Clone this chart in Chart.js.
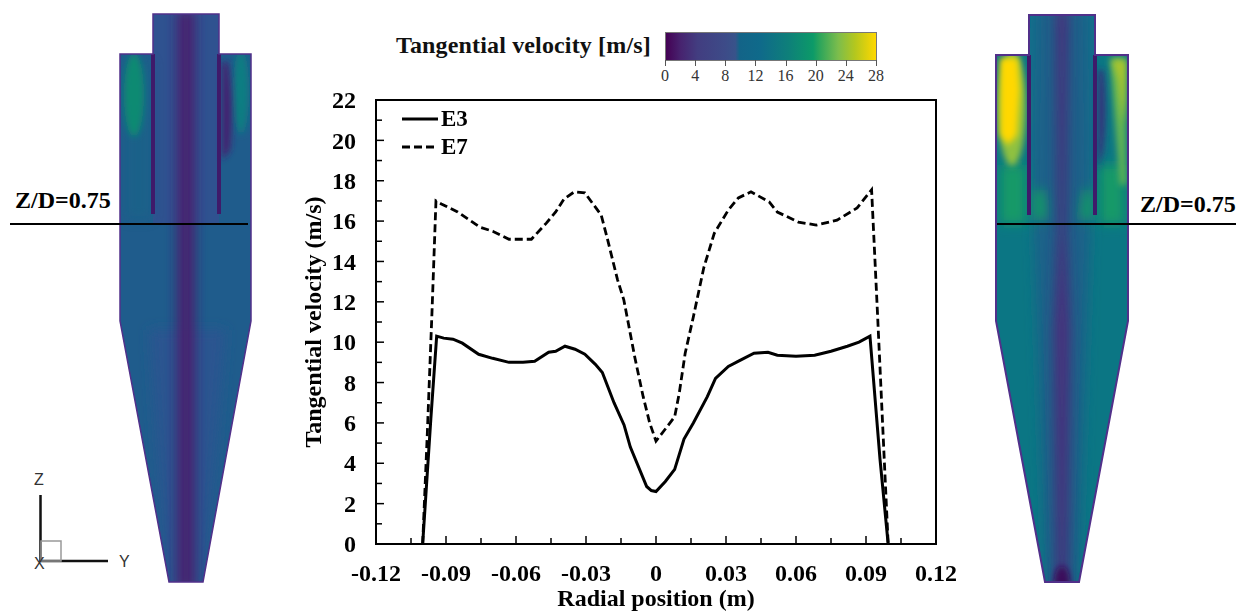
<!DOCTYPE html>
<html>
<head>
<meta charset="utf-8">
<title>Tangential velocity</title>
<script src="https://cdn.jsdelivr.net/npm/chart.js@4/dist/chart.umd.min.js"></script>
<style>
	html, body { margin: 0; padding: 0; background: #fff; }
	body { width: 1244px; height: 614px; position: relative; overflow: hidden; font-family: "Liberation Serif", serif; }
	#art { position: absolute; left: 0; top: 0; }
	#chartBox { position: absolute; left: 300px; top: 86px; width: 660px; height: 528px; }
	#barTitle { position: absolute; left: 396px; top: 32px; font-size: 24px; font-weight: bold; letter-spacing: 0.15px; color: #111; white-space: nowrap; }
	#colorBar { position: absolute; left: 665px; top: 32px; width: 210px; height: 27px; border: 1px solid #777;
		background: linear-gradient(to right, #440154 0%, #47236f 7%, #423d80 15%, #3d4b88 28%, #38538a 33%, #136488 35%, #0f6a8a 45%, #0e7f7a 58%, #0c9a68 70%, #2aa45c 73%, #7cbd4c 82%, #b4c71e 90%, #ffd800 100%); }
	.barTick { position: absolute; top: 60px; width: 1px; height: 6px; background: #555; }
	.barLabel { position: absolute; top: 67px; width: 30px; margin-left: -15px; text-align: center; font-size: 16px; color: #333; }
</style>
</head>
<body>
<svg id="art" width="1244" height="614" xmlns="http://www.w3.org/2000/svg">
	<defs>
		<filter id="b3" x="-100%" y="-100%" width="300%" height="300%"><feGaussianBlur stdDeviation="3"/></filter>
		<filter id="b6" x="-150%" y="-100%" width="400%" height="300%"><feGaussianBlur stdDeviation="6"/></filter>
		<clipPath id="leftShape"><path d="M153 14H219V54H251V321L203 582H169L120 321V54H153Z"/></clipPath>
		<clipPath id="rightShape"><path d="M1029 15H1095V55H1128V321L1079 582H1045L996 321V55H1029Z"/></clipPath>
	</defs>

	<!-- left contour, E3 -->
	<g clip-path="url(#leftShape)">
		<rect x="110" y="0" width="150" height="600" fill="#1f5c8c"/>
		<rect x="153" y="14" width="66" height="210" fill="#2f5290"/>
		<path d="M150 330H225L205 590H165Z" fill="#2c5590" filter="url(#b6)"/>
		<rect x="177" y="10" width="18" height="580" fill="#46206f" filter="url(#b6)"/>
		<rect x="125" y="60" width="27" height="160" fill="#146a86" opacity="0.4" filter="url(#b6)"/>
		<ellipse cx="134" cy="95" rx="10" ry="42" fill="#0c8a72" filter="url(#b3)"/>
		<ellipse cx="241" cy="92" rx="8" ry="42" fill="#0f7d82" filter="url(#b3)"/>
		<path d="M222 62H228Q234 100 230 150L222 160Z" fill="#44206f" filter="url(#b3)"/>
		<rect x="151" y="54" width="4" height="160" fill="#3f1a6a"/>
		<rect x="217" y="54" width="4" height="160" fill="#3f1a6a"/>
	</g>
	<path d="M153 14H219V54H251V321L203 582H169L120 321V54H153Z" fill="none" stroke="#51308a" stroke-width="1.500"/>
	<text x="15" y="208" font-size="24" font-weight="bold" fill="#000">Z/D=0.75</text>
	<rect x="10" y="223" width="238" height="2" fill="#000"/>

	<!-- axes triad -->
	<path d="M40.500 495V561H108" stroke="#111" stroke-width="2.500" fill="none"/>
	<rect x="41" y="541" width="20" height="20" fill="none" stroke="#999" stroke-width="1.500"/>
	<g font-family="Liberation Sans" font-size="16" fill="#333">
		<text x="34" y="485">Z</text>
		<text x="119" y="567">Y</text>
		<text x="34" y="569">X</text>
	</g>

	<!-- right contour, E7 -->
	<g clip-path="url(#rightShape)">
		<rect x="990" y="0" width="145" height="600" fill="#0b7684"/>
		<rect x="1029" y="14" width="66" height="210" fill="#10708a"/>
		<path d="M1036 10H1088L1090 230L1078 590H1046L1034 230Z" fill="#1c6189" filter="url(#b6)"/>
		<path d="M1056 10H1068L1066 230L1070 330L1067 590H1057L1054 330L1058 230Z" fill="#4a2d7c" filter="url(#b6)"/>
		<path d="M1000 165H1026V224H1000ZM1100 165H1124V224H1100Z" fill="#159a68" filter="url(#b6)"/>
		<path d="M1034 190H1044L1046 220H1034ZM1084 190H1092V220H1080Z" fill="#17a062" filter="url(#b6)"/>
		<ellipse cx="1012" cy="108" rx="14" ry="58" fill="#8fc140" filter="url(#b3)"/>
		<path d="M1000 58H1018L1020 90L1017 135L1008 145L1000 135Z" fill="#ffd800" filter="url(#b3)"/>
		<path d="M1110 58H1126V185H1120L1114 110Z" fill="#63b552" filter="url(#b3)"/>
		<path d="M1112 60H1126L1125 100L1123 125L1118 80Z" fill="#a8c42e" filter="url(#b3)"/>
		<path d="M1098 70H1103Q1107 110 1103 150L1098 170Z" fill="#3b2a7c" filter="url(#b3)"/>
		<ellipse cx="1062" cy="582" rx="8" ry="16" fill="#3a0a5c" filter="url(#b3)"/>
		<rect x="1027" y="55" width="4" height="160" fill="#3f1a6a"/>
		<rect x="1093" y="55" width="4" height="160" fill="#3f1a6a"/>
	</g>
	<path d="M1029 15H1095V55H1128V321L1079 582H1045L996 321V55H1029Z" fill="none" stroke="#51308a" stroke-width="2"/>
	<text x="1140" y="212" font-size="24" font-weight="bold" fill="#000">Z/D=0.75</text>
	<rect x="997" y="223" width="239" height="2" fill="#000"/>
</svg>

<div id="barTitle">Tangential velocity [m/s]</div>
<div id="colorBar"></div>
<div id="chartBox"><canvas id="profileChart" width="660" height="528"></canvas></div>

<script>
// Values
const e3Radius = [-0.1, -0.0965, -0.094, -0.091, -0.087, -0.083, -0.076, -0.07, -0.063, -0.057, -0.052, -0.046, -0.043, -0.039, -0.0347, -0.0305, -0.026, -0.023, -0.018, -0.0137, -0.011, -0.004, -0.002, 0, 0.004, 0.008, 0.012, 0.016, 0.022, 0.0255, 0.031, 0.036, 0.042, 0.048, 0.052, 0.06, 0.068, 0.075, 0.082, 0.087, 0.0917, 0.096, 0.0995];
const e3Velocity = [0, 6.2, 10.3, 10.2, 10.15, 9.95, 9.4, 9.2, 9.0, 9.0, 9.05, 9.5, 9.55, 9.8, 9.65, 9.4, 8.9, 8.5, 7.0, 5.9, 4.8, 2.85, 2.65, 2.6, 3.1, 3.7, 5.2, 6.0, 7.3, 8.2, 8.8, 9.1, 9.45, 9.5, 9.35, 9.3, 9.35, 9.55, 9.8, 10.0, 10.3, 4.2, 0];
const e7Radius = [-0.1, -0.098, -0.096, -0.0943, -0.092, -0.085, -0.0755, -0.07, -0.063, -0.0534, -0.047, -0.043, -0.0394, -0.035, -0.0305, -0.0235, -0.021, -0.0165, -0.0138, -0.0118, -0.009, -0.0055, -0.0027, 0, 0.008, 0.01, 0.0125, 0.016, 0.0205, 0.025, 0.031, 0.0353, 0.0407, 0.0485, 0.052, 0.061, 0.0687, 0.0776, 0.0862, 0.0924, 0.095, 0.0975, 0.0995];
const e7Velocity = [0, 5.5, 11.5, 17, 16.85, 16.45, 15.7, 15.5, 15.1, 15.1, 15.9, 16.45, 17.1, 17.45, 17.4, 16.3, 15.2, 13.1, 12.1, 10.9, 9.2, 7.3, 6.0, 5.1, 6.3, 7.5, 9.45, 11.25, 13.7, 15.4, 16.55, 17.15, 17.45, 16.95, 16.45, 15.95, 15.8, 16.05, 16.65, 17.55, 11.25, 5, 0];
const xTickLabels = ["-0.12", "-0.09", "-0.06", "-0.03", "0", "0.03", "0.06", "0.09", "0.12"];
const yTickLabels = ["0", "2", "4", "6", "8", "10", "12", "14", "16", "18", "20", "22"];
const colorBarLabels = ["0", "4", "8", "12", "16", "20", "24", "28"];

// Colour bar ticks
colorBarLabels.forEach((label, i) => {
	const left = 665 + (i * 211) / (colorBarLabels.length - 1);
	const tick = document.createElement("div");
	tick.className = "barTick";
	tick.style.left = left + "px";
	const text = document.createElement("div");
	text.className = "barLabel";
	text.style.left = left + "px";
	text.textContent = label;
	document.body.appendChild(tick);
	document.body.appendChild(text);
});

function toPoints(xs, ys) {
	return xs.map((x, i) => ({ x: x, y: ys[i] }));
}

const serif = "'Liberation Serif', serif";
const labelFont = { family: serif, size: 24, weight: "bold" };

// Frame, inward ticks and the legend inside the plot
const framePlugin = {
	id: "frame",
	afterDatasetsDraw(chart) {
		const { ctx, chartArea: a, scales } = chart;
		ctx.save();
		ctx.strokeStyle = "#000";
		ctx.lineWidth = 1.5;
		scales.x.ticks.forEach((tick, i) => {
			const px = scales.x.getPixelForTick(i);
			ctx.beginPath();
			ctx.moveTo(px, a.bottom);
			ctx.lineTo(px, a.bottom - (i % 2 === 0 ? 8 : 6));
			ctx.stroke();
		});
		scales.y.ticks.forEach((tick, i) => {
			const py = scales.y.getPixelForTick(i);
			ctx.beginPath();
			ctx.moveTo(a.left, py);
			ctx.lineTo(a.left + (i % 2 === 0 ? 8 : 6), py);
			ctx.stroke();
		});
		ctx.lineWidth = 2;
		ctx.strokeRect(a.left, a.top, a.right - a.left, a.bottom - a.top);

		ctx.font = "bold 23px " + serif;
		ctx.fillStyle = "#000";
		ctx.textBaseline = "middle";
		chart.data.datasets.forEach((ds, i) => {
			const rowY = a.top + 19 + i * 28;
			ctx.lineWidth = ds.borderWidth;
			ctx.setLineDash(ds.borderDash || []);
			ctx.beginPath();
			ctx.moveTo(a.left + 26, rowY);
			ctx.lineTo(a.left + 62, rowY);
			ctx.stroke();
			ctx.fillText(ds.label, a.left + 65, rowY + 1);
		});
		ctx.restore();
	},
};

function dropPadding(scale) {
	scale.paddingLeft = 0;
	scale.paddingRight = 0;
	scale.paddingTop = 0;
	scale.paddingBottom = 0;
}

new Chart(document.getElementById("profileChart"), {
	type: "scatter",
	data: {
		datasets: [
			{
				label: "E3",
				data: toPoints(e3Radius, e3Velocity),
				showLine: true,
				borderColor: "#000",
				backgroundColor: "#000",
				borderWidth: 3,
				pointRadius: 0,
			},
			{
				label: "E7",
				data: toPoints(e7Radius, e7Velocity),
				showLine: true,
				borderColor: "#000",
				backgroundColor: "#000",
				borderWidth: 2.8,
				borderDash: [8, 4],
				pointRadius: 0,
			},
		],
	},
	options: {
		responsive: false,
		animation: false,
		clip: false,
		layout: { padding: { top: 14, right: 24 } },
		plugins: {
			tooltip: { enabled: false },
			legend: { display: false },
		},
		scales: {
			x: {
				type: "linear",
				min: -0.12,
				max: 0.12,
				afterFit: (scale) => { scale.height = 70; dropPadding(scale); },
				grid: { display: false, drawTicks: false },
				border: { display: false },
				ticks: {
					stepSize: 0.015,
					autoSkip: false,
					maxRotation: 0,
					padding: 16,
					color: "#000",
					font: labelFont,
					callback: (value, index) => (index % 2 === 0 ? xTickLabels[index / 2] : ""),
				},
				title: { display: true, text: "Radial position (m)", color: "#000", font: labelFont, padding: { top: 8, bottom: 0 } },
			},
			y: {
				min: 0,
				max: 22,
				afterFit: (scale) => { scale.width = 76; dropPadding(scale); },
				grid: { display: false, drawTicks: false },
				border: { display: false },
				ticks: {
					stepSize: 1,
					autoSkip: false,
					padding: 20,
					labelOffset: 2,
					color: "#000",
					font: labelFont,
					callback: (value, index) => (index % 2 === 0 ? yTickLabels[index / 2] : ""),
				},
				title: { display: true, text: "Tangential velocity (m/s)", color: "#000", font: labelFont, padding: { top: 0, bottom: 0 } },
			},
		},
	},
	plugins: [framePlugin],
});
</script>
</body>
</html>
